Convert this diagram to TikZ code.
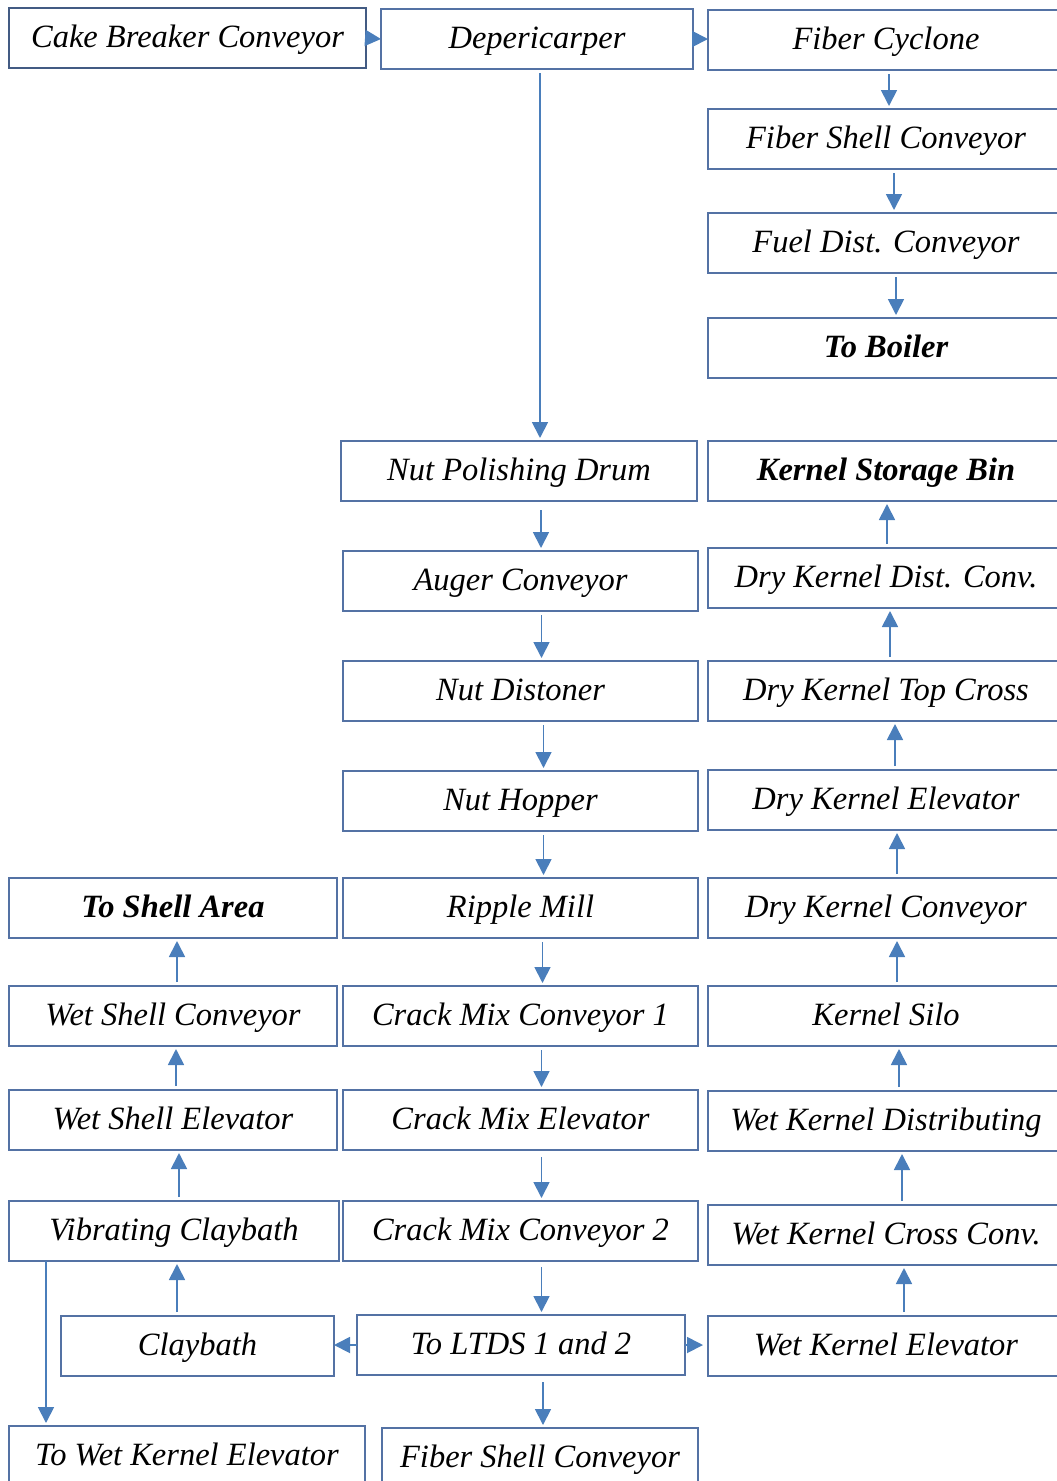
\documentclass[tikz,border=0pt]{standalone}
\usepackage{fontspec}
\setmainfont{Liberation Serif}
\usepackage{tikz}
\usetikzlibrary{arrows.meta}
\definecolor{boxline}{RGB}{84,114,164}
\definecolor{flowblue}{RGB}{74,126,187}

\begin{document}
\begin{tikzpicture}[x=1pt, y=-1pt,
    every node/.style={outer sep=0pt},
    box/.style={draw=boxline, line width=1.1pt, anchor=north west, minimum height=60pt, inner sep=0pt, text height=24pt, text depth=6pt, font=\fontsize{32.5}{38}\selectfont\itshape},
    boldbox/.style={box, font=\fontsize{32.5}{38}\selectfont\bfseries\itshape},
    flow/.style={draw=flowblue, line width=1.8pt, -{Triangle[length=16pt, width=16pt]}, shorten <=4pt, shorten >=3pt}]
    \useasboundingbox (0,0) rectangle (1057,1481);
    \clip (0,0) rectangle (1057,1481);

    % Top row
    \node[box, draw=boxline!80!black, line width=2pt, minimum width=357pt] (cbc) at (9,8) {Cake Breaker Conveyor};
    \node[box, minimum width=312pt] (dep) at (381,9) {Depericarper};
    \node[box, minimum width=356pt] (fcy) at (708,10) {Fiber Cyclone};

    % Right column
    \node[box, minimum width=356pt] (fsc) at (708,109) {Fiber Shell Conveyor};
    \node[box, minimum width=356pt] (fdc) at (708,213) {Fuel Dist. Conveyor};
    \node[boldbox, minimum width=356pt] (boil) at (708,318) {To Boiler};
    \node[boldbox, minimum width=356pt] (ksb) at (708,441) {Kernel Storage Bin};
    \node[box, minimum width=356pt] (dkdc) at (708,548) {Dry Kernel Dist. Conv.};
    \node[box, minimum width=356pt] (dktc) at (708,661) {Dry Kernel Top Cross};
    \node[box, minimum width=356pt] (dke) at (708,770) {Dry Kernel Elevator};
    \node[box, minimum width=356pt] (dkc) at (708,878) {Dry Kernel Conveyor};
    \node[box, minimum width=356pt] (ks) at (708,986) {Kernel Silo};
    \node[box, minimum width=356pt] (wkd) at (708,1091) {Wet Kernel Distributing};
    \node[box, minimum width=356pt] (wkcc) at (708,1205) {Wet Kernel Cross Conv.};
    \node[box, minimum width=356pt] (wke) at (708,1316) {Wet Kernel Elevator};

    % Middle column
    \node[box, minimum width=356pt] (npd) at (341,441) {Nut Polishing Drum};
    \node[box, minimum width=355pt] (ac) at (343,551) {Auger Conveyor};
    \node[box, minimum width=355pt] (nd) at (343,661) {Nut Distoner};
    \node[box, minimum width=355pt] (nh) at (343,771) {Nut Hopper};
    \node[box, minimum width=355pt] (rm) at (343,878) {Ripple Mill};
    \node[box, minimum width=355pt] (cmc1) at (343,986) {Crack Mix Conveyor 1};
    \node[box, minimum width=355pt] (cme) at (343,1090) {Crack Mix Elevator};
    \node[box, minimum width=355pt] (cmc2) at (343,1201) {Crack Mix Conveyor 2};
    \node[box, minimum width=328pt] (ltds) at (357,1315) {To LTDS 1 and 2};
    \node[box, minimum width=316pt] (fsc2) at (382,1428) {Fiber Shell Conveyor};

    % Left column
    \node[boldbox, minimum width=328pt] (tsa) at (9,878) {To Shell Area};
    \node[box, minimum width=328pt] (wsc) at (9,986) {Wet Shell Conveyor};
    \node[box, minimum width=328pt] (wse) at (9,1090) {Wet Shell Elevator};
    \node[box, minimum width=330pt] (vcb) at (9,1201) {Vibrating Claybath};
    \node[box, minimum width=273pt] (cb) at (61,1316) {Claybath};
    \node[box, minimum width=356pt] (twke) at (9,1426) {To Wet Kernel Elevator};

    % Horizontal flows
    \draw[flow, shorten <=0pt, shorten >=0pt] (cbc.east) -- (dep.west);
    \draw[flow, shorten <=0pt, shorten >=0pt] (dep.east) -- (dep.east -| fcy.west);
    \draw[flow, shorten <=0pt, shorten >=0pt] (ltds.west) -- (ltds.west -| cb.east);
    \draw[flow, shorten <=0pt, shorten >=5pt] (ltds.east) -- (ltds.east -| wke.west);

    % Fiber line
    \draw[flow] ([xshift=3pt]fcy.south) -- ([xshift=3pt]fsc.north);
    \draw[flow] ([xshift=8pt]fsc.south) -- ([xshift=8pt]fdc.north);
    \draw[flow] ([xshift=10pt]fdc.south) -- ([xshift=10pt]boil.north);

    % Kernel line (upwards)
    \draw[flow] ([xshift=18pt]wke.north) -- ([xshift=18pt]wkcc.south);
    \draw[flow] ([xshift=16pt]wkcc.north) -- ([xshift=16pt]wkd.south);
    \draw[flow] ([xshift=13pt]wkd.north) -- ([xshift=13pt]ks.south);
    \draw[flow] ([xshift=11pt]ks.north) -- ([xshift=11pt]dkc.south);
    \draw[flow] ([xshift=11pt]dkc.north) -- ([xshift=11pt]dke.south);
    \draw[flow] ([xshift=9pt]dke.north) -- ([xshift=9pt]dktc.south);
    \draw[flow] ([xshift=4pt]dktc.north) -- ([xshift=4pt]dkdc.south);
    \draw[flow] ([xshift=1pt]dkdc.north) -- ([xshift=1pt]ksb.south);

    % Nut line
    \draw[flow] ([xshift=3pt]dep.south) -- ([xshift=3pt]dep.south |- npd.north);
    \draw[flow, shorten <=9pt] ([xshift=22pt]npd.south) -- ([xshift=22pt]npd.south |- ac.north);
    \draw[flow] ([xshift=21pt]ac.south) -- ([xshift=21pt]nd.north);
    \draw[flow] ([xshift=23pt]nd.south) -- ([xshift=23pt]nh.north);
    \draw[flow] ([xshift=23pt]nh.south) -- ([xshift=23pt]rm.north);
    \draw[flow] ([xshift=22pt]rm.south) -- ([xshift=22pt]cmc1.north);
    \draw[flow] ([xshift=21pt]cmc1.south) -- ([xshift=21pt]cme.north);
    \draw[flow, shorten <=7pt] ([xshift=21pt]cme.south) -- ([xshift=21pt]cmc2.north);
    \draw[flow, shorten <=6pt] ([xshift=21pt]cmc2.south) -- ([xshift=21pt]cmc2.south |- ltds.north);
    \draw[flow, shorten <=7pt] ([xshift=22pt]ltds.south) -- ([xshift=22pt]ltds.south |- fsc2.north);

    % Shell line (upwards)
    \draw[flow] ([xshift=3pt]vcb.south |- cb.north) -- ([xshift=3pt]vcb.south);
    \draw[flow] ([xshift=5pt]vcb.north) -- ([xshift=5pt]vcb.north |- wse.south);
    \draw[flow] ([xshift=3pt]wse.north) -- ([xshift=3pt]wsc.south);
    \draw[flow] ([xshift=4pt]wsc.north) -- ([xshift=4pt]tsa.south);
    \draw[flow, shorten <=0pt] ([xshift=37pt]vcb.south west) -- ([xshift=37pt]vcb.south west |- twke.north);

\end{tikzpicture}
\end{document}
